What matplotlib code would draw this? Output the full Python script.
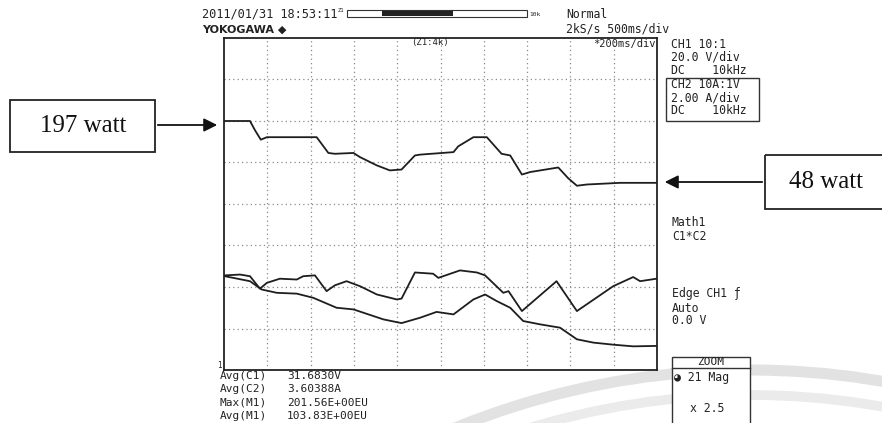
import matplotlib.pyplot as plt
from matplotlib.patches import Rectangle, Arc

# traces in screen divisions (10 x 8 grid)
power_x = [0.02, 0.60, 0.72, 0.85, 0.99, 2.14, 2.41, 2.56, 2.99, 3.14, 3.53, 3.83, 4.10, 4.41, 4.53,
           5.30, 5.41, 5.76, 6.07, 6.41, 6.61, 6.88, 7.07, 7.72, 7.95, 8.15, 8.38, 9.15, 10.0]
power_y = [6.00, 6.00, 5.77, 5.55, 5.61, 5.61, 5.23, 5.21, 5.23, 5.13, 4.93, 4.81, 4.83, 5.17, 5.19,
           5.25, 5.39, 5.61, 5.61, 5.21, 5.17, 4.71, 4.77, 4.88, 4.62, 4.44, 4.47, 4.51, 4.51]

volt_x = [0.02, 0.37, 0.60, 0.83, 0.99, 1.29, 1.68, 1.83, 2.10, 2.37, 2.56, 2.83, 3.14, 3.53, 3.99, 4.10,
          4.41, 4.83, 4.95, 5.45, 5.84, 6.03, 6.45, 6.57, 6.88, 7.68, 8.15, 8.99, 9.45, 9.61, 9.99]
volt_y = [2.28, 2.30, 2.26, 1.96, 2.10, 2.20, 2.18, 2.26, 2.28, 1.90, 2.04, 2.14, 2.02, 1.82, 1.70, 1.72,
          2.35, 2.32, 2.22, 2.40, 2.35, 2.28, 1.86, 1.90, 1.42, 2.14, 1.42, 2.02, 2.24, 2.14, 2.20]

amp_x = [0.02, 0.60, 0.87, 1.22, 1.68, 2.06, 2.60, 2.99, 3.22, 3.68, 4.10, 4.53, 4.91, 5.30, 5.76, 6.03,
         6.30, 6.61, 6.91, 7.30, 7.76, 8.15, 8.53, 8.99, 9.45, 9.99]
amp_y = [2.26, 2.14, 1.94, 1.86, 1.84, 1.74, 1.50, 1.46, 1.38, 1.22, 1.13, 1.26, 1.40, 1.34, 1.70, 1.82,
         1.66, 1.50, 1.18, 1.10, 1.02, 0.74, 0.66, 0.61, 0.57, 0.58]

header = ["2011/01/31 18:53:11", "YOKOGAWA \u25c6"]
ch_lines = ["CH1 10:1", "20.0 V/div", "DC    10kHz", "CH2 10A:1V", "2.00 A/div", "DC    10kHz"]
meas_names = ["Avg(C1)", "Avg(C2)", "Max(M1)", "Avg(M1)"]
meas_vals = ["31.6830V", "3.60388A", "201.56E+00EU", "103.83E+00EU"]

W, H = 882, 423
fig = plt.figure(figsize=(W / 100, H / 100), dpi=100)
mono = "DejaVu Sans Mono"
ink = "#222222"

# overlay in pixel coordinates, behind the screen for the watermark
bg = fig.add_axes([0, 0, 1, 1], zorder=0)
bg.set_xlim(0, W)
bg.set_ylim(H, 0)
bg.axis("off")
bg.add_patch(Arc((750, 1150), 1560, 1560, theta1=235, theta2=305, color="#e2e2e2", lw=8))
bg.add_patch(Arc((750, 1150), 1510, 1510, theta1=235, theta2=305, color="#ebebeb", lw=7))

# scope screen
ax = fig.add_axes([224 / W, 1 - 370 / H, (657 - 224) / W, (370 - 38) / H], zorder=2)
ax.patch.set_alpha(0)
ax.set_xlim(0, 10)
ax.set_ylim(0, 8)
ax.set_xticks([])
ax.set_yticks([])
for s in ax.spines.values():
    s.set_linewidth(1.3)
    s.set_color(ink)
for i in range(1, 10):
    ax.axvline(i, color="#8a8a8a", lw=0.9, ls=(0, (1, 2.5)))
for j in range(1, 8):
    ax.axhline(j, color="#8a8a8a", lw=0.9, ls=(0, (1, 2.5)))

ax.plot(power_x, power_y, color="#1e1e1e", lw=1.3)
ax.plot(volt_x, volt_y, color="#1e1e1e", lw=1.3)
ax.plot(amp_x, amp_y, color="#1e1e1e", lw=1.3)

# overlay in pixel coordinates for texts and annotations
ov = fig.add_axes([0, 0, 1, 1], zorder=5)
ov.set_xlim(0, W)
ov.set_ylim(H, 0)
ov.axis("off")
ov.patch.set_alpha(0)

ov.text(202, 14, header[0], family=mono, fontsize=8.6, va="center", color=ink)
ov.text(338, 11, "Z1", family=mono, fontsize=4, va="center", color=ink)
ov.add_patch(Rectangle((347, 10), 180, 7, fill=False, ec="#333333", lw=0.8))
ov.add_patch(Rectangle((382, 11), 71, 5, color=ink, lw=0))
ov.text(529, 14, "10k", family=mono, fontsize=4.5, va="center", color=ink)
ov.text(202, 30, header[1], family=["DejaVu Sans"], fontsize=8, fontweight="bold", va="center", color=ink)
ov.text(566, 14, "Normal", family=mono, fontsize=8.3, va="center", color=ink)
ov.text(566, 29, "2kS/s 500ms/div", family=mono, fontsize=8.3, va="center", color=ink)
ov.text(430, 43, "(Z1:4k)", family=mono, fontsize=6.5, va="center", ha="center", color=ink)
ov.text(656, 44, "*200ms/div", family=mono, fontsize=7.5, va="center", ha="right", color=ink)

for txt, y in zip(ch_lines, [44, 57, 70, 84, 98, 111]):
    ov.text(671, y, txt, family=mono, fontsize=8.3, va="center", color=ink)
ov.add_patch(Rectangle((666, 78), 93, 43, fill=False, ec="#333333", lw=1))

ov.text(672, 223, "Math1", family=mono, fontsize=8.3, va="center", color=ink)
ov.text(672, 237, "C1*C2", family=mono, fontsize=8.3, va="center", color=ink)
ov.text(672, 293, "Edge CH1 \u0192", family=mono, fontsize=8.3, va="center", color=ink)
ov.text(672, 308, "Auto", family=mono, fontsize=8.3, va="center", color=ink)
ov.text(672, 320, "0.0 V", family=mono, fontsize=8.3, va="center", color=ink)

ov.add_patch(Rectangle((672, 357), 78, 70, fc="white", ec="#333333", lw=1))
ov.plot([672, 750], [368, 368], color="#333333", lw=1)
ov.text(711, 362, "ZOOM", family=mono, fontsize=8, va="center", ha="center", color=ink)
ov.text(674, 377, "\u25d5 21 Mag", family=[mono, "DejaVu Sans"], fontsize=8.3, va="center", color=ink)
ov.text(690, 408, "x 2.5", family=mono, fontsize=8.3, va="center", color=ink)

for k, (n, v) in enumerate(zip(meas_names, meas_vals)):
    y = 376 + k * 13.4
    ov.text(220, y, n, family=mono, fontsize=8, va="center", color=ink)
    ov.text(287, y, v, family=mono, fontsize=8, va="center", color=ink)
ov.text(217, 366, "1", family=mono, fontsize=5.5, va="center", color=ink)

# annotations
ov.add_patch(Rectangle((10, 100), 145, 52, fill=False, ec=ink, lw=1.3))
ov.text(83, 126, "197 watt", family="Liberation Serif", fontsize=18, va="center", ha="center", color="#111111")
ov.annotate("", xy=(220, 125), xytext=(155, 125),
            arrowprops=dict(arrowstyle="-|>", color="#111111", lw=1.3, mutation_scale=20))

ov.add_patch(Rectangle((765, 155), 130, 54, fill=False, ec=ink, lw=1.3))
ov.text(826, 182, "48 watt", family="Liberation Serif", fontsize=18, va="center", ha="center", color="#111111")
ov.annotate("", xy=(662, 182), xytext=(765, 182),
            arrowprops=dict(arrowstyle="-|>", color="#111111", lw=1.3, mutation_scale=20))

fig.savefig("out.png", dpi=100)
